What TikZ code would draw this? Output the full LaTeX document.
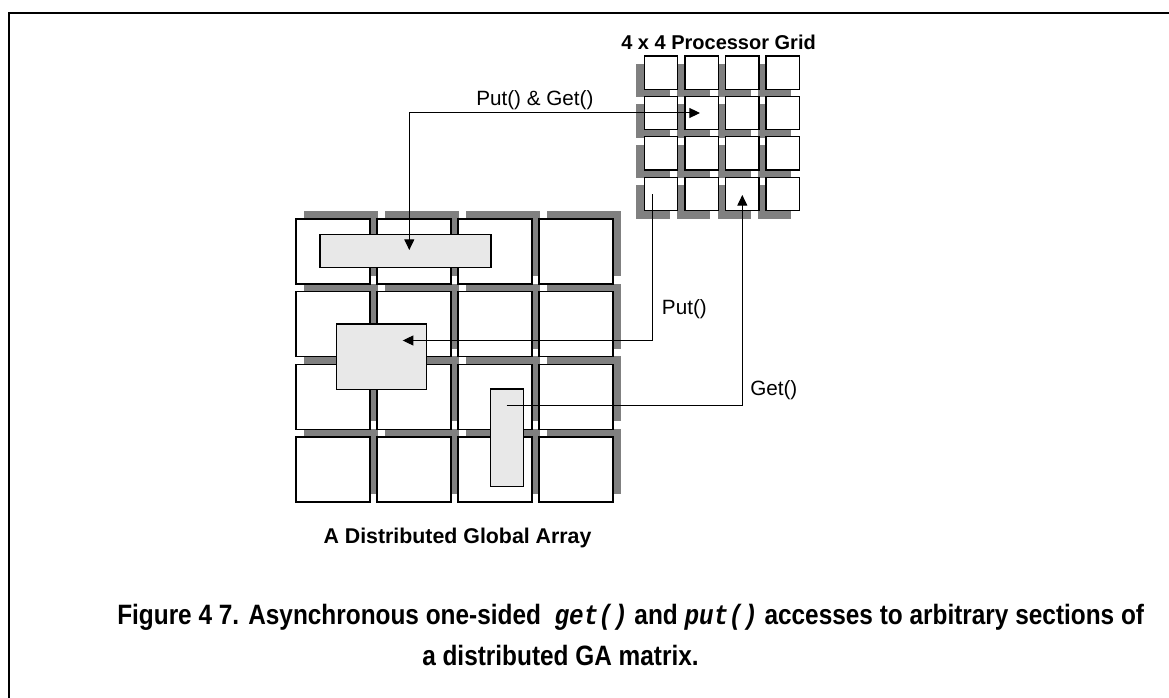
\documentclass[tikz,border=0pt]{standalone}
\usepackage{fontspec}
\usepackage{graphicx}
\setmainfont{Liberation Sans}
\newfontfamily\cour{Liberation Mono}
\usetikzlibrary{arrows.meta}
\definecolor{shade}{HTML}{808080}
\definecolor{blockfill}{HTML}{E8E8E8}
\newcommand{\capsq}[1]{\scalebox{0.871}[1]{#1}}
\tikzset{
  cellbox/.style={draw=black, line width=1pt, fill=white, inner sep=0pt, outer sep=0pt, anchor=north west},
  bigcell/.style={cellbox, minimum width=55.5pt, minimum height=48.75pt},
  smallcell/.style={cellbox, minimum width=25pt, minimum height=25pt},
  bigshadow/.style={fill=shade, draw=none, inner sep=0pt, outer sep=0pt, anchor=north west, minimum width=55.5pt, minimum height=48.75pt},
  smallshadow/.style={fill=shade, draw=none, inner sep=0pt, outer sep=0pt, anchor=north west, minimum width=25pt, minimum height=25pt},
  section/.style={draw=black, line width=0.8pt, fill=blockfill, inner sep=0pt, outer sep=0pt, anchor=north west},
  link/.style={draw=black, line width=0.75pt},
  tip/.style={-{Triangle[length=8pt,width=7.5pt]}},
  lbl/.style={font=\fontsize{15.5}{18}\selectfont, inner sep=0pt},
  ttl/.style={font=\fontsize{15}{18}\selectfont\bfseries, inner sep=0pt},
  captext/.style={font=\fontsize{21}{25}\selectfont\bfseries, inner sep=0pt}
}
\begin{document}
\begin{tikzpicture}[x=0.75pt,y=-0.75pt]
\useasboundingbox (0,0) rectangle (1169,698);
% frame
\draw[line width=1.6pt] (1169,13) -- (9,13) -- (9,698);
% big array shadows and cells
\foreach \r in {1,...,4}{
  \foreach \c in {1,...,4}{
    \node[bigshadow] (as-\r-\c) at ({296+81*(\c-1)+8},{219+72.7*(\r-1)-8}) {};
  }
}
\foreach \r in {1,...,4}{
  \foreach \c in {1,...,4}{
    \node[bigcell] (a-\r-\c) at ({296+81*(\c-1)},{219+72.7*(\r-1)}) {};
  }
}
% processor grid shadows and cells
\foreach \r in {1,...,4}{
  \foreach \c in {1,...,4}{
    \node[smallshadow] (ps-\r-\c) at ({644.3+40.6*(\c-1)-8},{56+40.4*(\r-1)+8}) {};
  }
}
\foreach \r in {1,...,4}{
  \foreach \c in {1,...,4}{
    \node[smallcell] (p-\r-\c) at ({644.3+40.6*(\c-1)},{56+40.4*(\r-1)}) {};
  }
}
% sections
\node[section, minimum width=128.25pt, minimum height=25pt] (hstrip) at (320,234.3) {};
\node[section, minimum width=67.5pt, minimum height=49pt] (sqblock) at (336.7,324) {};
\node[section, minimum width=24.75pt, minimum height=73pt] (vstrip) at (490.7,389) {};
% connector end points
\coordinate (pg) at (700,113);
\coordinate (hs) at (409.3,250);
\coordinate (pu) at (652.7,194.3);
\coordinate (sq) at (402.7,340.5);
\coordinate (vs) at (506.7,405);
\coordinate (gt) at (742.3,195);
% connectors
\draw[link, tip] (hs |- pg) -- (pg);
\draw[link, tip] (hs |- pg) -- (hs);
\draw[link, tip] (pu) -- (pu |- sq) -- (sq);
\draw[link, tip] (vs) -- (vs -| gt) -- (gt);
% labels
\node[lbl, anchor=west] (l1) at (476,100) {Put() \& Get()};
\node[lbl, anchor=west] (l2) at (661.7,309.3) {Put()};
\node[lbl, anchor=west] (l3) at (750,390) {Get()};
\node[ttl, anchor=west] (t1) at (621,42) {4 x 4 Processor Grid};
\node[ttl, font=\fontsize{16}{19}\selectfont\bfseries, anchor=west] (t2) at (323.3,538.3) {A Distributed Global Array};
\node[captext, anchor=west] (c1) at (117,617) {\capsq{Figure 4 7. Asynchronous one-sided \ {\cour\bfseries\itshape get()} and {\cour\bfseries\itshape put()} accesses to arbitrary sections of}};
\node[captext, anchor=west] (c2) at (422,655) {\capsq{a distributed GA matrix.}};
\end{tikzpicture}
\end{document}
